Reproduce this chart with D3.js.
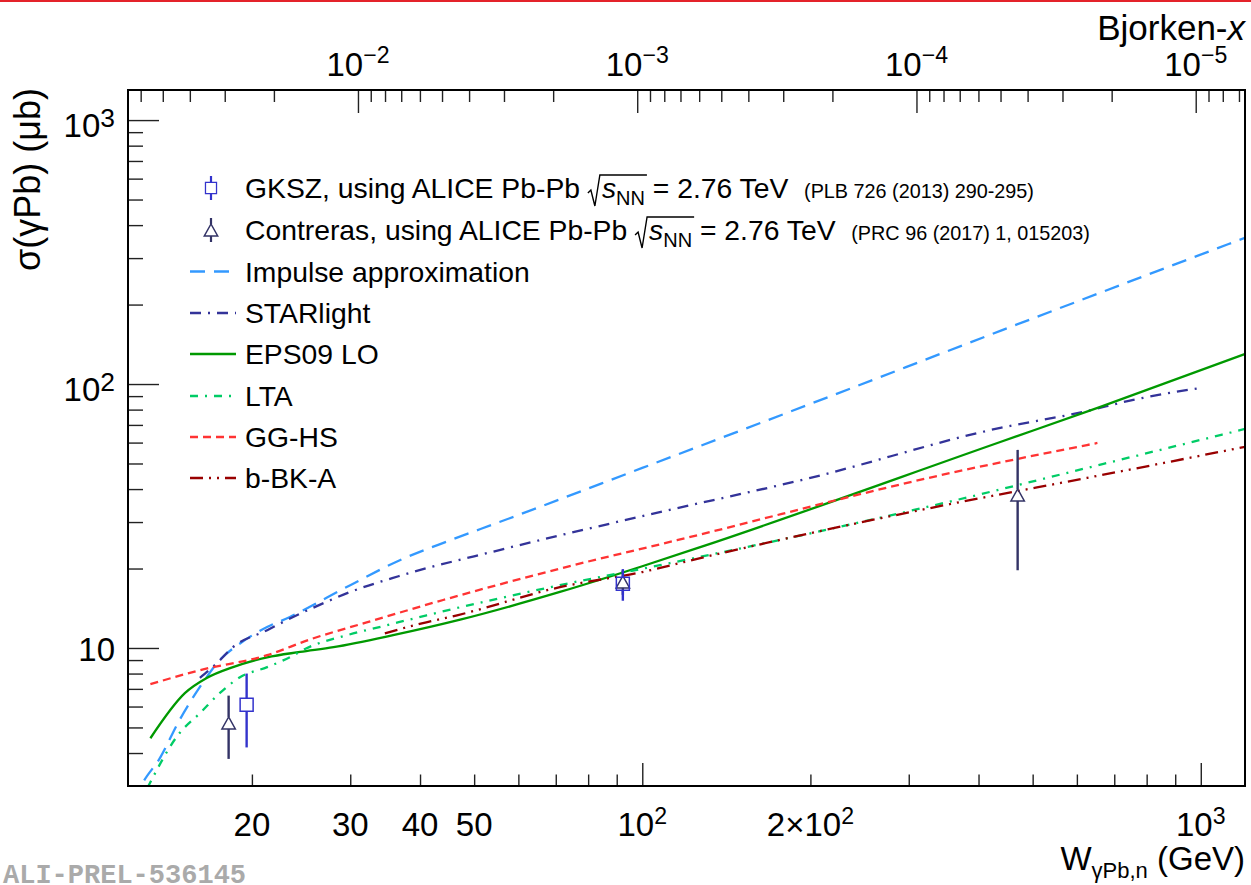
<!DOCTYPE html>
<html lang="en">
<head>
<meta charset="UTF-8">
<title>J/psi photoproduction cross section on Pb</title>
<script src="https://cdn.jsdelivr.net/npm/d3@7"></script>
<style>
  body { margin: 0; background: #fff; }
  svg { display: block; }
  text { font-family: "Liberation Sans", Arial, Helvetica, sans-serif; fill: #000; }
  text.figid { font-family: "Liberation Mono", "DejaVu Sans Mono", monospace; font-weight: bold; fill: #aaaaaa; }
</style>
</head>
<body>
<svg id="fig" width="1251" height="885"></svg>
<script>
// axis ranges
const W_MIN = 12, W_MAX = 1200;
const SIG_MIN = 3, SIG_MAX = 1300;
const M_JPSI = 3.097; // GeV, used for x = (M/W)^2

// model curves: W (GeV) and sigma (mub)
const impulseW     = [12.3, 12.67, 13.71, 14.83, 16.31, 17.51, 19.04, 21.29, 23.39, 24.4, 30.0, 36.8, 45.3, 55.5, 100, 200, 437.5, 1200];
const impulseSigma = [2.6, 3.0, 3.85, 5.32, 7.35, 8.99, 10.4, 12.0, 13.1, 13.7, 17.3, 21.5, 25.6, 30.0, 48.1, 84.1, 159, 358];

const starlightW     = [16.14, 17.31, 18.5, 21.3, 23.7, 26.5, 30.0, 36.6, 55.5, 100, 200, 437.5, 616, 757, 1000];
const starlightSigma = [7.7, 8.76, 10.07, 11.68, 13.1, 14.6, 16.3, 18.7, 23.5, 31.6, 44.1, 68.2, 78.4, 87.1, 96.7];

const eps09W     = [13.16, 15.17, 16.6, 18.5, 21.3, 24.4, 28.0, 35.8, 47.2, 71.2, 100, 127, 437.5, 661, 1200];
const eps09Sigma = [4.55, 6.74, 7.69, 8.46, 9.22, 9.66, 10.07, 11.18, 12.8, 16.3, 20.4, 24.1, 60.3, 81.9, 130];

const ltaW     = [13.0, 14.83, 16.14, 17.51, 19.04, 21.3, 23.4, 25.0, 29.6, 34.9, 41.1, 71.2, 107.6, 366, 626, 1200];
const ltaSigma = [2.95, 4.75, 5.66, 6.74, 7.75, 8.46, 9.23, 9.96, 11.18, 12.2, 13.3, 17.3, 20.6, 36.4, 48.1, 67.6];

const gghsW     = [13.16, 16.14, 21.3, 25.4, 32.1, 44.0, 73.3, 115.4, 356, 653];
const gghsSigma = [7.29, 8.24, 9.39, 10.77, 12.5, 15.2, 20.3, 25.6, 46.0, 59.8];

const bbkaW     = [34.6, 40.3, 46.6, 71.2, 100, 127, 363, 626, 1200];
const bbkaSigma = [11.36, 12.4, 13.3, 17.0, 19.4, 21.9, 35.4, 44.1, 57.8];

// extracted points
const gkszW     = [19.57, 92.3];
const gkszSigma = [6.1, 17.5];
const gkszErr   = [1.9, 2.4];

const contrW     = [18.17, 92.3, 470];
const contrSigma = [5.2, 17.8, 38.0];
const contrErr   = [1.4, 1.9, 18.3];

// tick labels: [value, mantissa text, exponent text]
const bottomLabels = [[20, "20", ""], [30, "30", ""], [40, "40", ""], [50, "50", ""],
                      [100, "10", "2"], [200, "2\u00d710", "2"], [1000, "10", "3"]];
const topLabels    = [[1e-2, "10", "\u22122"], [1e-3, "10", "\u22123"], [1e-4, "10", "\u22124"], [1e-5, "10", "\u22125"]];
const leftLabels   = [[10, "10", ""], [100, "10", "2"], [1000, "10", "3"]];

const svg = d3.select("#fig");
const L = 128, R = 1245, T = 90, B = 786;

const bjx = w => (M_JPSI / w) ** 2;
const x = d3.scaleLog().domain([W_MIN, W_MAX]).range([L, R]);
const y = d3.scaleLog().domain([SIG_MIN, SIG_MAX]).range([B, T]);
const xTop = d3.scaleLog().domain([bjx(W_MIN), bjx(W_MAX)]).range([L, R]);

// red band on top of the slide
svg.append("rect").attr("x", 0).attr("y", 0).attr("width", 1251).attr("height", 2)
  .attr("fill", "#e4232a");

svg.append("clipPath").attr("id", "frameclip")
  .append("rect").attr("x", L).attr("y", T).attr("width", R - L).attr("height", B - T);

// ---- ticks ----
const isDecade = v => Math.abs(Math.log10(v) - Math.round(Math.log10(v))) < 1e-6;

function tickSet(axisFn, scale, vals, size, tr) {
  const g = svg.append("g").attr("transform", tr)
    .call(axisFn(scale).tickValues(vals).tickSize(size).tickFormat(""));
  g.select(".domain").remove();
  g.selectAll("text").remove();
  g.selectAll("line").attr("stroke", "#222").attr("stroke-width", 1.4);
}

const xt = x.ticks(), yt = y.ticks(), tt = xTop.ticks();
tickSet(d3.axisBottom, x, xt.filter(v => !isDecade(v)), -11.5, `translate(0,${B})`);
tickSet(d3.axisBottom, x, xt.filter(isDecade), -23, `translate(0,${B})`);
tickSet(d3.axisTop, xTop, tt.filter(v => !isDecade(v)), -12, `translate(0,${T})`);
tickSet(d3.axisTop, xTop, tt.filter(isDecade), -23, `translate(0,${T})`);
tickSet(d3.axisLeft, y, yt.filter(v => !isDecade(v) && v > SIG_MIN), -15, `translate(${L},0)`);
tickSet(d3.axisLeft, y, yt.filter(isDecade), -31, `translate(${L},0)`);

// ---- tick labels ----
function powLabel(px, py, base, sup, size, supScale, supRaise, anchor) {
  const t = svg.append("text").attr("x", px).attr("y", py)
    .attr("text-anchor", anchor).attr("font-size", size);
  t.append("tspan").text(base);
  if (sup) t.append("tspan").attr("dy", -supRaise).attr("font-size", size * supScale).text(sup);
}

bottomLabels.forEach(([v, b, s]) => powLabel(x(v), 836, b, s, 33, 0.7, 12, "middle"));
topLabels.forEach(([v, b, s]) => powLabel(xTop(v), 76, b, s, 33, 0.7, 13, "middle"));
leftLabels.forEach(([v, b, s]) => powLabel(115, y(v) + (s ? 17 : 13.5), b, s, 33, 0.8, 10, "end"));

// ---- axis titles ----
const xTitle = svg.append("text").attr("x", R).attr("y", 870)
  .attr("text-anchor", "end").attr("font-size", 33);
xTitle.append("tspan").text("W");
xTitle.append("tspan").attr("dy", 8).attr("font-size", 22).text("\u03b3Pb,n");
xTitle.append("tspan").attr("dy", -8).text(" (GeV)");

const topTitle = svg.append("text").attr("x", R).attr("y", 40)
  .attr("text-anchor", "end").attr("font-size", 35);
topTitle.append("tspan").text("Bjorken-");
topTitle.append("tspan").attr("font-style", "italic").text("x");

svg.append("text").attr("transform", `translate(40,${T - 2}) rotate(-90)`)
  .attr("text-anchor", "end").attr("font-size", 36)
  .text("\u03c3(\u03b3Pb) (\u03bcb)");

// ---- model curves ----
const models = [
  { name: "Impulse approximation", w: impulseW, s: impulseSigma, color: "#3399ff", dash: "15,9" },
  { name: "STARlight", w: starlightW, s: starlightSigma, color: "#333399", dash: "11,7,2,7" },
  { name: "EPS09 LO", w: eps09W, s: eps09Sigma, color: "#009900", dash: null },
  { name: "LTA", w: ltaW, s: ltaSigma, color: "#00cc66", dash: "8,7,2,7" },
  { name: "GG-HS", w: gghsW, s: gghsSigma, color: "#ff3333", dash: "8,5" },
  { name: "b-BK-A", w: bbkaW, s: bbkaSigma, color: "#990000", dash: "13,6,2,6,2,6" }
];

const line = d3.line().x(d => x(d[0])).y(d => y(d[1])).curve(d3.curveMonotoneX);
const curves = svg.append("g").attr("clip-path", "url(#frameclip)");
models.forEach(m => {
  curves.append("path")
    .datum(d3.zip(m.w, m.s))
    .attr("d", line)
    .attr("fill", "none")
    .attr("stroke", m.color)
    .attr("stroke-width", 2.3)
    .attr("stroke-dasharray", m.dash);
});

// ---- data points ----
const squarePath = (cx, cy) => `M${cx - 6.5},${cy - 6.5}h13v13h-13Z`;
const trianglePath = (cx, cy) => `M${cx},${cy - 6}L${cx + 6.7},${cy + 6}L${cx - 6.7},${cy + 6}Z`;

function drawPoints(ws, ss, es, color, shape, half) {
  const g = svg.append("g");
  ws.forEach((w, i) => {
    const cx = x(w), cy = y(ss[i]);
    const yHi = y(ss[i] + es[i]), yLo = y(ss[i] - es[i]);
    g.append("line").attr("x1", cx).attr("x2", cx).attr("y1", yHi).attr("y2", cy - half)
      .attr("stroke", color).attr("stroke-width", 2.4);
    g.append("line").attr("x1", cx).attr("x2", cx).attr("y1", cy + half).attr("y2", yLo)
      .attr("stroke", color).attr("stroke-width", 2.4);
    g.append("path").attr("d", shape(cx, cy)).attr("fill", "none")
      .attr("stroke", color).attr("stroke-width", 1.5);
  });
}
drawPoints(contrW, contrSigma, contrErr, "#333366", trianglePath, 6);
drawPoints(gkszW, gkszSigma, gkszErr, "#3333cc", squarePath, 6.5);

// ---- legend ----
const legY = [188, 230, 271.5, 313, 354, 396, 437, 478];
const legX0 = 190, legX1 = 236, legText = 245;
const LEG_FONT = 28.3, REF_FONT = 19.8;
const leg = svg.append("g");

// pieces of text set one after another, returns end x
function richText(x0, base, parts) {
  let cx = x0;
  parts.forEach(p => {
    if (p.radical) {
      p.start = cx;
      cx += 14;
      return;
    }
    if (p.radicalEnd) {
      const r = p.radicalEnd.start;
      leg.append("path")
        .attr("d", `M${r},${base - 5}L${r + 3},${base - 8}L${r + 7},${base + 8}L${r + 12},${base - 23}L${cx + 2},${base - 23}`)
        .attr("fill", "none").attr("stroke", "#000").attr("stroke-width", 1.4);
      return;
    }
    const t = leg.append("text").attr("x", cx).attr("y", base + (p.dy || 0))
      .attr("font-size", p.size).style("white-space", "pre").text(p.t);
    if (p.italic) t.attr("font-style", "italic");
    cx += t.node().getComputedTextLength();
  });
  return cx;
}

const refTexts = [
  ["GKSZ, using ALICE Pb-Pb ", "(PLB 726 (2013) 290-295)"],
  ["Contreras, using ALICE Pb-Pb ", "(PRC 96 (2017) 1, 015203)"]
];
refTexts.forEach(([lead, ref], i) => {
  const rad = { radical: true };
  richText(legText, legY[i] + 10, [
    { t: lead, size: LEG_FONT },
    rad,
    { t: "s", size: LEG_FONT, italic: true },
    { t: "NN", size: 20, dy: 7 },
    { radicalEnd: rad },
    { t: " = 2.76 TeV  ", size: LEG_FONT },
    { t: ref, size: REF_FONT }
  ]);
});

// legend markers
const mx = 211;
[[legY[0], "#3333cc", squarePath, 5.5], [legY[1], "#333366", trianglePath, 6]].forEach(([cy, color, shape, half]) => {
  leg.append("line").attr("x1", mx).attr("x2", mx).attr("y1", cy - 12).attr("y2", cy - half)
    .attr("stroke", color).attr("stroke-width", 2.2);
  leg.append("line").attr("x1", mx).attr("x2", mx).attr("y1", cy + half).attr("y2", cy + 12)
    .attr("stroke", color).attr("stroke-width", 2.2);
  const sc = shape === squarePath ? `translate(${mx},${cy}) scale(0.85) translate(${-mx},${-cy})` : null;
  leg.append("path").attr("d", shape(mx, cy)).attr("transform", sc)
    .attr("fill", "none").attr("stroke", color).attr("stroke-width", 1.5);
});

models.forEach((m, i) => {
  const cy = legY[i + 2];
  leg.append("line").attr("x1", legX0).attr("x2", legX1).attr("y1", cy).attr("y2", cy)
    .attr("stroke", m.color).attr("stroke-width", 2.3).attr("stroke-dasharray", m.dash);
  leg.append("text").attr("x", legText).attr("y", cy + 10).attr("font-size", LEG_FONT).text(m.name);
});

// frame
svg.append("rect").attr("x", L).attr("y", T).attr("width", R - L).attr("height", B - T)
  .attr("fill", "none").attr("stroke", "#000").attr("stroke-width", 2);

// preliminary figure id
svg.append("text").attr("class", "figid").attr("x", 3).attr("y", 883)
  .attr("font-size", 27)
  .text("ALI-PREL-536145");
</script>
</body>
</html>
